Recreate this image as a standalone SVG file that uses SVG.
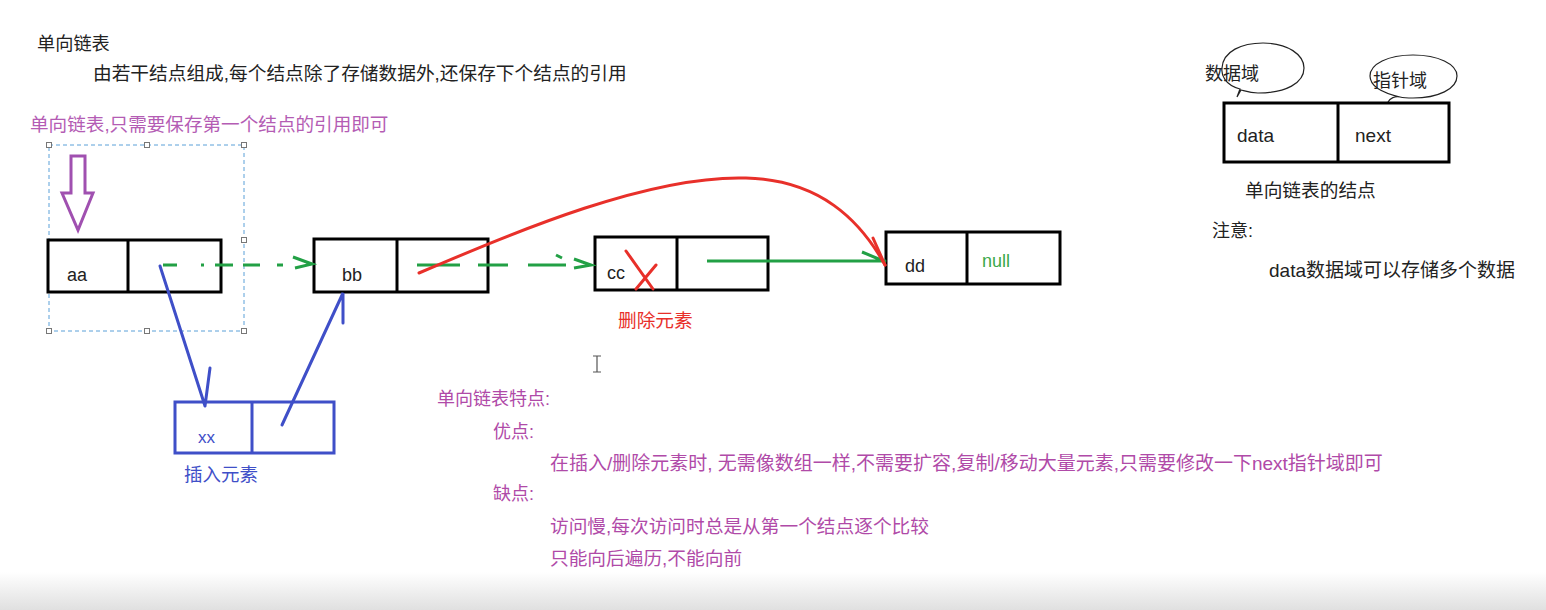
<svg xmlns="http://www.w3.org/2000/svg" width="1546" height="610" viewBox="0 0 1546 610">
<defs>
<linearGradient id="bottomBand" x1="0" y1="0" x2="0" y2="1">
<stop offset="0" stop-color="#ffffff"/>
<stop offset="1" stop-color="#e0e0e0"/>
</linearGradient>
</defs>
<style>
text{font-family:"Liberation Sans","Noto Sans CJK SC",sans-serif}
.dark{fill:#222}
.box{fill:#fff;stroke:#000;stroke-width:3}
.div{stroke:#000;stroke-width:3}
.blue{stroke:#3f4fc8;stroke-width:3;fill:none;stroke-linecap:round}
.green{stroke:#22a045;stroke-width:3;fill:none}
.red{stroke:#e8302a;stroke-width:3;fill:none;stroke-linecap:round}
.purple{fill:#b04aa8}
.lpurple{fill:#b45cb4}
.tblue{fill:#3f4fc8}
.tred{fill:#e8302a}
.tgreen{fill:#3aa84a}
.handle{fill:#fff;stroke:#777;stroke-width:1}
.bubble{fill:#fff;stroke:#222;stroke-width:1.2}
</style>
<rect width="1546" height="610" fill="#fff"/>
<rect x="0" y="572" width="1546" height="38" fill="url(#bottomBand)"/>

<g id="header">
<text x="37" y="50" class="dark" font-size="18.2">单向链表</text>
<text x="93" y="80" class="dark" font-size="18.7">由若干结点组成,每个结点除了存储数据外,还保存下个结点的引用</text>
<text x="30" y="131" class="lpurple" font-size="18.6">单向链表,只需要保存第一个结点的引用即可</text>
</g>

<g id="selection">
<rect x="49" y="145" width="195" height="186" fill="none" stroke="#5aa0d8" stroke-width="1" stroke-dasharray="4,3"/>
<rect class="handle" x="46.5" y="142.5" width="5" height="5"/>
<rect class="handle" x="144.5" y="142.5" width="5" height="5"/>
<rect class="handle" x="241.5" y="142.5" width="5" height="5"/>
<rect class="handle" x="241.5" y="237.5" width="5" height="5"/>
<rect class="handle" x="46.5" y="328.5" width="5" height="5"/>
<rect class="handle" x="144.5" y="328.5" width="5" height="5"/>
<rect class="handle" x="241.5" y="328.5" width="5" height="5"/>
</g>

<g id="head-arrow">
<path d="M71,156 L85,156 L85,193 L93,193 L78,230 L62,193 L71,193 Z" fill="none" stroke="#a050b0" stroke-width="3" stroke-linejoin="miter"/>
</g>

<g id="node-aa">
<rect class="box" x="48" y="240" width="173" height="52"/>
<line class="div" x1="128" y1="240" x2="128" y2="292"/>
<text x="67" y="281" class="dark" font-size="18">aa</text>
</g>

<g id="node-bb">
<rect class="box" x="314" y="239" width="174" height="53"/>
<line class="div" x1="397" y1="239" x2="397" y2="292"/>
<text x="342" y="281" class="dark" font-size="18">bb</text>
</g>

<g id="node-cc">
<rect class="box" x="595" y="237" width="173" height="53"/>
<line class="div" x1="677" y1="237" x2="677" y2="290"/>
<text x="607" y="279" class="dark" font-size="18">cc</text>
</g>

<g id="node-dd">
<rect class="box" x="886" y="232" width="174" height="52"/>
<line class="div" x1="967" y1="232" x2="967" y2="284"/>
<text x="905" y="272" class="dark" font-size="18">dd</text>
<text x="982" y="267" class="tgreen" font-size="18">null</text>
</g>

<g id="node-xx">
<rect x="175" y="402" width="159" height="51" fill="#fff" stroke="#3f4fc8" stroke-width="3"/>
<line x1="252" y1="402" x2="252" y2="453" stroke="#3f4fc8" stroke-width="3"/>
<text x="198" y="443" class="tblue" font-size="17">xx</text>
<text x="184" y="481" class="tblue" font-size="18.5">插入元素</text>
</g>

<g id="delete-label">
<text x="618" y="327" class="tred" font-size="18.7">删除元素</text>
</g>

<g id="connectors">
<path class="green" d="M163,265 H177 M201,265 H204 M215,265 H233 M243,265 H260 M277,265 H283"/>
<path class="green" d="M293,257 L312,264 L295,268"/>
<path class="green" d="M417,265 H460 M478,265 H508 M528,265 H566"/>
<path class="green" d="M556,255 L562,258 M574,259 L591,265 L574,268"/>
<path class="green" d="M707,261 H886 M862,252 L886,262"/>
<path class="red" d="M419,273 C520,230 650,175 746,178 C820,180 860,220 885,265"/>
<path class="red" d="M873,238 L885,265"/>
<path class="red" d="M626,251 L653,289 M656,265 L636,289"/>
<path class="blue" d="M160,266 L205,406 M210,368 L205,406"/>
<path class="blue" d="M282,425 L343,293 L343,323"/>
</g>

<g id="cursor">
<path d="M597,356 V372 M593,356 H601 M593,372 H601" stroke="#555" stroke-width="1.2" fill="none"/>
</g>

<g id="features">
<text x="437" y="405" class="purple" font-size="18">单向链表特点:</text>
<text x="493" y="438" class="purple" font-size="18">优点:</text>
<text x="550" y="470" class="purple" font-size="19">在插入/删除元素时, 无需像数组一样,不需要扩容,复制/移动大量元素,只需要修改一下next指针域即可</text>
<text x="493" y="500" class="purple" font-size="18">缺点:</text>
<text x="550" y="533" class="purple" font-size="18.7">访问慢,每次访问时总是从第一个结点逐个比较</text>
<text x="550" y="565" class="purple" font-size="18.7">只能向后遍历,不能向前</text>
</g>

<g id="legend">
<path class="bubble" d="M1237,97 L1240,89 C1225,85 1221,75 1222,68 C1223,51 1242,43 1263,43 C1288,43 1304,55 1304,68 C1304,83 1286,93 1258,93 C1250,93 1245,91 1241,90 Z"/>
<text x="1205" y="80" class="dark" font-size="18">数据域</text>
<path class="bubble" d="M1388,102 C1390,98 1395,96 1400,97 C1383,93 1370,86 1370,76 C1370,64 1388,55 1413,55 C1438,55 1457,64 1457,76 C1457,89 1438,98 1413,98 C1408,98 1404,98 1400,97"/>
<text x="1373" y="87" class="dark" font-size="18">指针域</text>
<rect class="box" x="1224" y="103" width="225" height="59"/>
<line class="div" x1="1338" y1="103" x2="1338" y2="162"/>
<text x="1237" y="142" class="dark" font-size="19">data</text>
<text x="1355" y="142" class="dark" font-size="19">next</text>
<text x="1245" y="197" class="dark" font-size="18.7">单向链表的结点</text>
<text x="1212" y="237" class="dark" font-size="18">注意:</text>
<text x="1269" y="277" class="dark" font-size="19">data数据域可以存储多个数据</text>
</g>
</svg>
